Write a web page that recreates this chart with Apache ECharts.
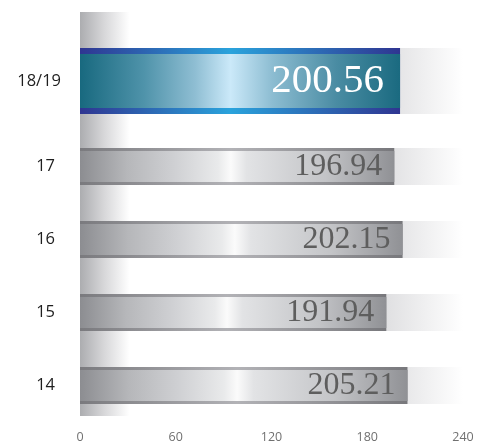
<!DOCTYPE html>
<html><head><meta charset="utf-8">
<script src="https://cdn.jsdelivr.net/npm/echarts@6/dist/echarts.min.js"></script>
<style>html,body{margin:0;padding:0;background:#fff}#c{width:481px;height:448px}</style>
</head><body><div id="c"></div>
<script>
// ---- data ----
const topCategory = ['18/19'];
const topValues = [200.56];
const categories = ['14', '15', '16', '17'];
const values = [205.21, 191.94, 202.15, 196.94];
const xTickValues = [0, 60, 120, 180, 240];
const stripValue = [31];

// ---- styles ----
function hGrad(stops) {
  return { type: 'linear', x: 0, y: 0, x2: 1, y2: 0,
    colorStops: stops.map(s => ({ offset: s[0], color: s[1] })) };
}
const grayInner = hGrad([[0,'#8c8d91'],[0.15,'#b6b7ba'],[0.3,'#cfd0d3'],[0.44,'#e9eaeb'],[0.48,'#fbfbfb'],[0.53,'#e2e3e5'],[0.78,'#c3c4c7'],[1,'#909195']]);
const grayEdge = hGrad([[0,'#7a7a7e'],[0.48,'#b2b2b6'],[1,'#78787c']]);
const blueInner = hGrad([[0,'#18697f'],[0.2,'#4f93aa'],[0.36,'#8fbed3'],[0.47,'#cbe9f9'],[0.6,'#8dbdd2'],[0.8,'#4a8ca3'],[1,'#1a6a80']]);
const blueEdge = hGrad([[0,'#2f3591'],[0.47,'#2aa3dc'],[1,'#2f3591']]);
const bgGrad = hGrad([[0,'#dedee0'],[0.8,'#e0e0e2'],[1,'#ffffff']]);
const stripGrad = hGrad([[0,'#acadb0'],[0.5,'#d8d8da'],[1,'#ffffff']]);

const L = 80, R = 18;
const xBase = { type: 'value', min: 0, max: 240, interval: 60,
  axisLine: { show: false }, axisTick: { show: false }, splitLine: { show: false }, axisLabel: { show: false } };

const option = {
  animation: false,
  backgroundColor: '#ffffff',
  grid: [
    { left: L, right: R, top: 12, height: 404 },
    { left: L, right: R, top: 44.5, height: 73 },
    { left: L, right: R, top: 130, height: 292 }
  ],
  xAxis: [
    Object.assign({}, xBase, { gridIndex: 0 }),
    Object.assign({}, xBase, { gridIndex: 1 }),
    Object.assign({}, xBase, { gridIndex: 2,
      axisLabel: { show: true, margin: 9, color: '#707070', fontSize: 12.5, fontFamily: 'Open Sans',
        formatter: v => xTickValues.includes(v) ? String(v) : '' } })
  ],
  yAxis: [
    { type: 'category', gridIndex: 0, data: ['strip'], show: false },
    { type: 'category', gridIndex: 1, data: topCategory,
      axisLine: { show: false }, axisTick: { show: false },
      axisLabel: { margin: 19, color: '#1e1e1e', fontSize: 16.5, fontFamily: 'Open Sans' } },
    { type: 'category', gridIndex: 1, data: topCategory, show: false },
    { type: 'category', gridIndex: 2, data: categories,
      axisLine: { show: false }, axisTick: { show: false },
      axisLabel: { margin: 25, color: '#1e1e1e', fontSize: 16.5, fontFamily: 'Open Sans' } },
    { type: 'category', gridIndex: 2, data: categories, show: false }
  ],
  series: [
    { type: 'bar', xAxisIndex: 0, yAxisIndex: 0, data: stripValue, barWidth: '100%', silent: true, z: 1,
      itemStyle: { color: stripGrad } },
    { type: 'bar', xAxisIndex: 1, yAxisIndex: 1, data: topValues, barWidth: 66, z: 2, silent: true,
      showBackground: true, backgroundStyle: { color: bgGrad },
      itemStyle: { color: blueEdge } },
    { type: 'bar', xAxisIndex: 1, yAxisIndex: 2, data: topValues, barWidth: 54, z: 3, silent: true,
      itemStyle: { color: blueInner },
      label: { show: true, position: 'insideRight', distance: 16, color: '#ffffff',
        fontFamily: 'Liberation Serif', fontSize: 41, formatter: p => p.value.toFixed(2) } },
    { type: 'bar', xAxisIndex: 2, yAxisIndex: 3, data: values, barWidth: 37, z: 2, silent: true,
      showBackground: true, backgroundStyle: { color: bgGrad },
      itemStyle: { color: grayEdge } },
    { type: 'bar', xAxisIndex: 2, yAxisIndex: 4, data: values, barWidth: 31, z: 3, silent: true,
      itemStyle: { color: grayInner },
      label: { show: true, position: 'insideRight', distance: 12, color: '#5e5e5e',
        fontFamily: 'Liberation Serif', fontSize: 32, formatter: p => p.value.toFixed(2) } }
  ]
};
const chart = echarts.init(document.getElementById('c'), null, { renderer: 'canvas' });
chart.setOption(option);
</script>
</body></html>
